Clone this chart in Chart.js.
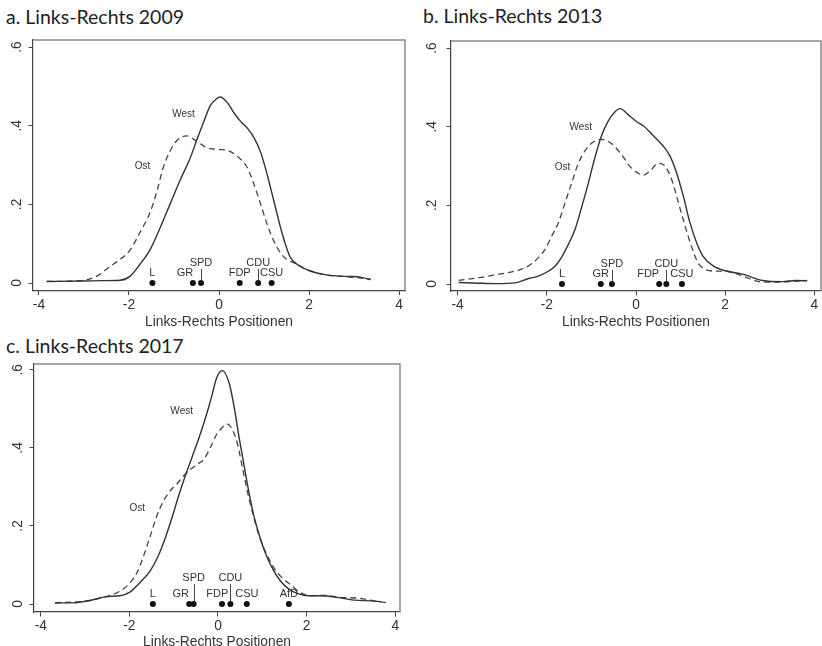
<!DOCTYPE html>
<html>
<head>
<meta charset="utf-8">
<script src="https://cdn.jsdelivr.net/npm/chart.js@4.4.1/dist/chart.umd.min.js"></script>
<style>
  html, body { margin: 0; padding: 0; background: #fff; overflow: hidden; }
  body { width: 822px; height: 646px; position: relative; }
  canvas { position: absolute; }
  .heading { position: absolute; font-family: Lato, "Open Sans", sans-serif; font-size: 19.5px; line-height: 1; color: #222; white-space: nowrap; }
</style>
</head>
<body>
<div class="heading" style="left:6px; top:6.5px">a. Links-Rechts 2009</div>
<div class="heading" style="left:423px; top:5.5px">b. Links-Rechts 2013</div>
<div class="heading" style="left:6px; top:336px">c. Links-Rechts 2017</div>

<canvas id="chart2009" width="410" height="330" style="left:0; top:0"></canvas>
<canvas id="chart2013" width="415" height="330" style="left:410px; top:0"></canvas>
<canvas id="chart2017" width="410" height="320" style="left:0; top:330px"></canvas>

<script>
// axis ticks shared by all three panels
const xTicks = [-4, -2, 0, 2, 4];
const yTicks = [0, 0.2, 0.4, 0.6];
const yTickLabels = ['0', '.2', '.4', '.6'];

// 2009 densities
const x2009West = [-3.83, -3.0, -2.6, -2.2, -1.98, -1.76, -1.53, -1.31, -1.09, -0.87, -0.64, -0.49, -0.34, -0.2, -0.05, 0.03, 0.19, 0.33, 0.48, 0.63, 0.78, 0.93, 1.07, 1.22, 1.37, 1.48, 1.59, 1.81, 2.04, 2.41, 2.85, 3.15, 3.37];
const y2009West = [0.004, 0.005, 0.006, 0.007, 0.017, 0.047, 0.085, 0.14, 0.2, 0.26, 0.318, 0.365, 0.41, 0.45, 0.469, 0.473, 0.458, 0.433, 0.411, 0.394, 0.369, 0.331, 0.276, 0.208, 0.14, 0.097, 0.064, 0.042, 0.03, 0.02, 0.017, 0.015, 0.008];
const x2009Ost = [-3.83, -3.09, -2.72, -2.42, -2.2, -1.98, -1.76, -1.53, -1.38, -1.24, -1.09, -0.94, -0.72, -0.49, -0.27, 0.07, 0.19, 0.41, 0.63, 0.78, 0.93, 1.07, 1.22, 1.37, 1.52, 1.67, 1.96, 2.41, 2.85, 3.37];
const y2009Ost = [0.004, 0.006, 0.017, 0.042, 0.06, 0.083, 0.128, 0.18, 0.233, 0.293, 0.335, 0.362, 0.374, 0.36, 0.344, 0.339, 0.337, 0.322, 0.293, 0.25, 0.199, 0.149, 0.106, 0.076, 0.059, 0.051, 0.034, 0.02, 0.016, 0.01];

// 2013 densities
const x2013West = [-3.98, -3.52, -3.15, -2.71, -2.41, -2.19, -1.96, -1.81, -1.67, -1.52, -1.37, -1.22, -1.07, -0.93, -0.78, -0.63, -0.48, -0.35, -0.19, 0.0, 0.17, 0.39, 0.61, 0.76, 0.91, 1.06, 1.21, 1.36, 1.5, 1.73, 2.02, 2.39, 2.84, 3.28, 3.58, 3.84];
const y2013West = [0.004, 0.002, 0.001, 0.003, 0.014, 0.02, 0.033, 0.046, 0.068, 0.1, 0.138, 0.195, 0.256, 0.318, 0.375, 0.413, 0.437, 0.446, 0.432, 0.414, 0.402, 0.377, 0.351, 0.326, 0.283, 0.224, 0.156, 0.105, 0.071, 0.046, 0.033, 0.025, 0.009, 0.006, 0.009, 0.008];
const x2013Ost = [-3.98, -3.52, -3.08, -2.71, -2.41, -2.19, -2.04, -1.89, -1.74, -1.59, -1.44, -1.3, -1.15, -0.96, -0.78, -0.56, -0.33, -0.11, 0.17, 0.32, 0.5, 0.65, 0.8, 0.95, 1.1, 1.24, 1.39, 1.54, 1.73, 2.02, 2.39, 2.84, 3.21, 3.84];
const y2013Ost = [0.009, 0.016, 0.025, 0.033, 0.046, 0.067, 0.088, 0.122, 0.156, 0.207, 0.258, 0.305, 0.338, 0.361, 0.368, 0.358, 0.33, 0.296, 0.277, 0.288, 0.307, 0.3, 0.266, 0.207, 0.148, 0.097, 0.054, 0.038, 0.033, 0.033, 0.02, 0.005, 0.005, 0.009];

// 2017 densities
const x2017West = [-3.68, -3.27, -2.89, -2.51, -2.21, -1.98, -1.76, -1.53, -1.35, -1.2, -1.05, -0.9, -0.74, -0.59, -0.44, -0.29, -0.14, -0.03, 0.1, 0.25, 0.36, 0.47, 0.59, 0.7, 0.81, 0.96, 1.11, 1.26, 1.41, 1.6, 1.79, 2.02, 2.32, 2.69, 3.07, 3.45, 3.68];
const y2017West = [0.003, 0.003, 0.009, 0.019, 0.021, 0.031, 0.055, 0.085, 0.123, 0.166, 0.217, 0.273, 0.328, 0.375, 0.422, 0.474, 0.533, 0.58, 0.598, 0.567, 0.508, 0.431, 0.354, 0.285, 0.226, 0.166, 0.119, 0.085, 0.059, 0.038, 0.027, 0.021, 0.021, 0.017, 0.01, 0.008, 0.006];
const x2017Ost = [-3.68, -2.89, -2.44, -2.21, -1.98, -1.83, -1.68, -1.53, -1.38, -1.23, -1.08, -0.93, -0.78, -0.62, -0.47, -0.32, -0.17, -0.03, 0.06, 0.21, 0.32, 0.44, 0.55, 0.66, 0.78, 0.93, 1.08, 1.26, 1.45, 1.63, 1.86, 2.09, 2.39, 2.77, 3.15, 3.52, 3.82];
const y2017Ost = [0.003, 0.009, 0.022, 0.033, 0.055, 0.08, 0.123, 0.174, 0.226, 0.264, 0.29, 0.307, 0.328, 0.345, 0.358, 0.371, 0.401, 0.435, 0.448, 0.461, 0.448, 0.41, 0.35, 0.29, 0.234, 0.174, 0.132, 0.093, 0.067, 0.05, 0.029, 0.021, 0.022, 0.017, 0.015, 0.008, 0.003];

// party positions on the scale
const parties2009 = ['L', 'GR', 'SPD', 'FDP', 'CDU', 'CSU'];
const positions2009 = [-1.48, -0.58, -0.4, 0.46, 0.87, 1.17];
const parties2013 = ['L', 'GR', 'SPD', 'FDP', 'CDU', 'CSU'];
const positions2013 = [-1.66, -0.79, -0.54, 0.52, 0.68, 1.03];
const parties2017 = ['L', 'GR', 'SPD', 'FDP', 'CDU', 'CSU', 'AfD'];
const positions2017 = [-1.47, -0.65, -0.55, 0.09, 0.28, 0.65, 1.6];

// where the West / Ost names sit, in data units
const curveNames = ['West', 'Ost'];
const curveNameX2009 = [-0.79, -1.7];
const curveNameY2009 = [0.43, 0.298];
const curveNameX2013 = [-1.24, -1.65];
const curveNameY2013 = [0.399, 0.298];
const curveNameX2017 = [-0.82, -1.82];
const curveNameY2017 = [0.493, 0.245];

const axisFont = { family: '"Liberation Sans", Arial, sans-serif', size: 13.8 };
const inkColor = '#333';

const toPoints = (xs, ys) => xs.map((x, i) => ({ x: x, y: ys[i] }));

// frame, party labels and curve names
const panelDecor = {
    id: 'panelDecor',
    afterDatasetsDraw(chart, args, opts) {
        const ctx = chart.ctx;
        const a = chart.chartArea;
        const xs = chart.scales.x;
        const ys = chart.scales.y;
        ctx.save();

        // top and right edge of the plot region
        ctx.strokeStyle = '#8a8a8a';
        ctx.lineWidth = 1.5;
        ctx.beginPath();
        ctx.moveTo(a.left, a.top);
        ctx.lineTo(a.right, a.top);
        ctx.lineTo(a.right, a.bottom);
        ctx.stroke();

        ctx.fillStyle = inkColor;
        ctx.strokeStyle = '#444';
        ctx.lineWidth = 1;
        ctx.textAlign = 'center';
        ctx.textBaseline = 'middle';
        ctx.font = '11px "Liberation Sans", Arial, sans-serif';
        const base = ys.getPixelForValue(0);
        opts.parties.forEach((name, i) => {
            const px = xs.getPixelForValue(opts.positions[i]);
            const raised = opts.raised.includes(name);
            const lift = raised ? opts.raise : 10;
            ctx.fillText(name, px + (opts.nudge[name] || 0), base - lift);
            if (raised) {
                ctx.beginPath();
                ctx.moveTo(Math.round(px) + 0.5, base - lift + 6);
                ctx.lineTo(Math.round(px) + 0.5, base - 3);
                ctx.stroke();
            }
        });

        ctx.font = '10px "Liberation Sans", Arial, sans-serif';
        curveNames.forEach((name, i) => {
            ctx.fillText(name, xs.getPixelForValue(opts.nameX[i]), ys.getPixelForValue(opts.nameY[i]));
        });
        ctx.restore();
    }
};

function densityChart(id, west, ost, parties, positions, names, box) {
    const ctx = document.getElementById(id).getContext('2d');
    return new Chart(ctx, {
        type: 'line',
        data: {
            datasets: [{
                data: west,
                borderColor: '#333',
                borderWidth: 1.4,
                pointRadius: 0,
                cubicInterpolationMode: 'monotone'
            }, {
                data: ost,
                borderColor: '#444',
                borderWidth: 1.3,
                borderDash: [6, 4],
                pointRadius: 0,
                cubicInterpolationMode: 'monotone'
            }, {
                data: positions.map(p => ({ x: p, y: 0 })),
                showLine: false,
                pointRadius: 3,
                pointBackgroundColor: '#111',
                pointBorderWidth: 0
            }]
        },
        options: {
            responsive: false,
            animation: false,
            layout: {
                padding: { top: box.top, left: 0, right: box.right, bottom: 0 }
            },
            scales: {
                x: {
                    type: 'linear',
                    min: box.xMin,
                    max: box.xMax,
                    afterBuildTicks: s => { s.ticks = xTicks.map(v => ({ value: v })); },
                    afterFit: s => { s.height = box.xAxisHeight; s.paddingLeft = 0; s.paddingRight = 0; },
                    ticks: {
                        font: axisFont,
                        color: inkColor,
                        padding: 1.5,
                        maxRotation: 0,
                        autoSkip: false,
                        callback: v => String(v)
                    },
                    grid: { drawOnChartArea: false, tickLength: 4.5, color: '#444' },
                    border: { color: '#444', width: 1.2 },
                    title: {
                        display: true,
                        text: 'Links-Rechts Positionen',
                        font: axisFont,
                        color: inkColor,
                        padding: 0
                    }
                },
                y: {
                    type: 'linear',
                    min: box.yMin,
                    max: box.yMax,
                    afterBuildTicks: s => { s.ticks = yTicks.map(v => ({ value: v })); },
                    afterFit: s => { s.width = box.yAxisWidth; s.paddingTop = 0; s.paddingBottom = 0; },
                    ticks: {
                        font: axisFont,
                        color: inkColor,
                        minRotation: 90,
                        maxRotation: 90,
                        crossAlign: 'center',
                        padding: box.yLabelPad,
                        autoSkip: false,
                        callback: (v, i) => yTickLabels[i]
                    },
                    grid: { drawOnChartArea: false, tickLength: 4.5, color: '#444' },
                    border: { color: '#444', width: 1.2 }
                }
            },
            plugins: {
                legend: { display: false },
                tooltip: { enabled: false },
                panelDecor: {
                    parties: parties,
                    positions: positions,
                    raised: ['SPD', 'CDU'],
                    raise: box.raise,
                    nudge: box.nudge,
                    nameX: names[0],
                    nameY: names[1]
                }
            }
        },
        plugins: [panelDecor]
    });
}

densityChart('chart2009', toPoints(x2009West, y2009West), toPoints(x2009Ost, y2009Ost),
    parties2009, positions2009, [curveNameX2009, curveNameY2009],
    { top: 40, right: 5, xAxisHeight: 39.5, yAxisWidth: 33, yLabelPad: 6,
      xMin: -4.133, xMax: 4.133, yMin: -0.019, yMax: 0.618, raise: 20, nudge: { GR: -8 } });

densityChart('chart2013', toPoints(x2013West, y2013West), toPoints(x2013Ost, y2013Ost),
    parties2013, positions2013, [curveNameX2013, curveNameY2013],
    { top: 41, right: 0.5, xAxisHeight: 39, yAxisWidth: 41, yLabelPad: 9,
      xMin: -4.149, xMax: 4.149, yMin: -0.0178, yMax: 0.618, raise: 20, nudge: { FDP: -11 } });

densityChart('chart2017', toPoints(x2017West, y2017West), toPoints(x2017Ost, y2017Ost),
    parties2017, positions2017, [curveNameX2017, curveNameY2017],
    { top: 34, right: 10, xAxisHeight: 38, yAxisWidth: 34, yLabelPad: 5.5,
      xMin: -4.153, xMax: 4.108, yMin: -0.0205, yMax: 0.615, raise: 26, nudge: { GR: -8.5, FDP: -4.7 } });
</script>
</body>
</html>
